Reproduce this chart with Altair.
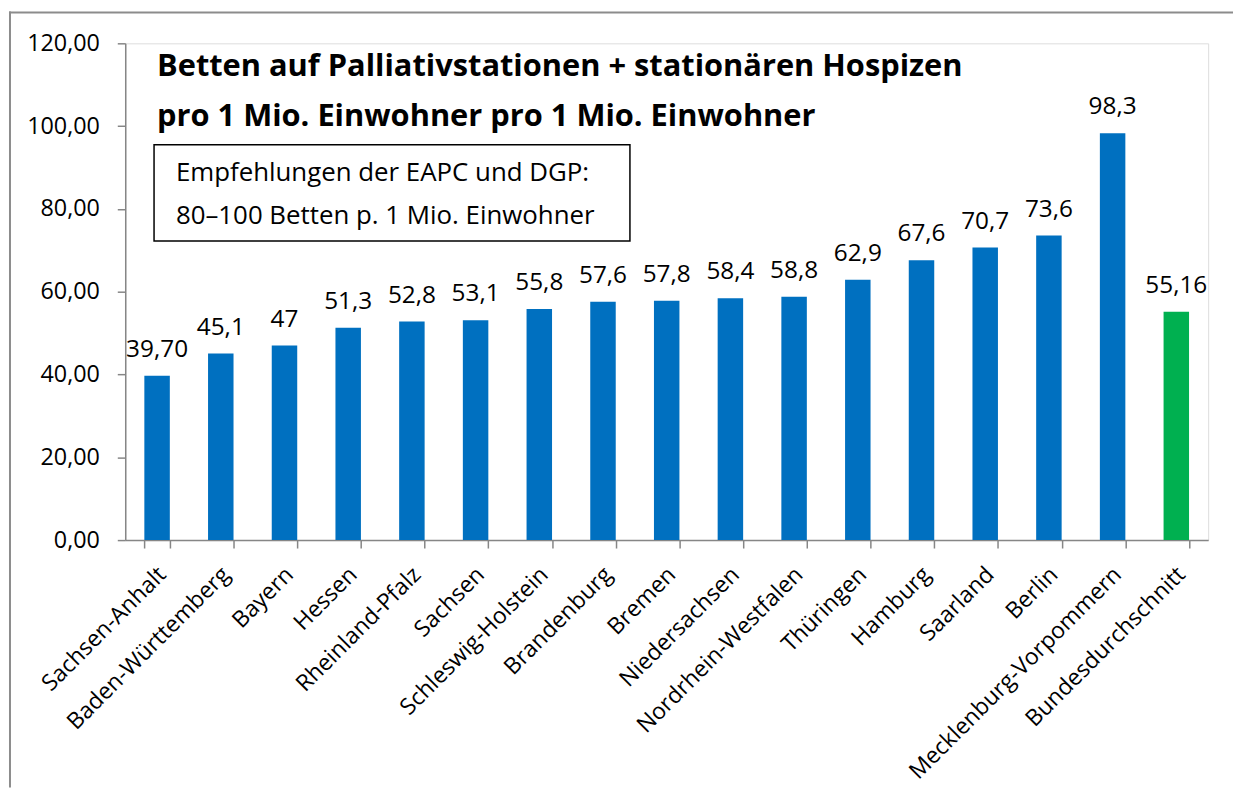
import altair as alt
import pandas as pd

laender = ["Sachsen-Anhalt", "Baden-Württemberg", "Bayern", "Hessen", "Rheinland-Pfalz",
           "Sachsen", "Schleswig-Holstein", "Brandenburg", "Bremen", "Niedersachsen",
           "Nordrhein-Westfalen", "Thüringen", "Hamburg", "Saarland", "Berlin",
           "Mecklenburg-Vorpommern", "Bundesdurchschnitt"]
werte = [39.70, 45.1, 47, 51.3, 52.8, 53.1, 55.8, 57.6, 57.8, 58.4, 58.8, 62.9,
         67.6, 70.7, 73.6, 98.3, 55.16]
beschriftung = ["39,70", "45,1", "47", "51,3", "52,8", "53,1", "55,8", "57,6", "57,8",
                "58,4", "58,8", "62,9", "67,6", "70,7", "73,6", "98,3", "55,16"]
gruppe = ["Land"] * 16 + ["Bund"]
y_ticks = [0, 20, 40, 60, 80, 100, 120]

titel = ["Betten auf Palliativstationen + stationären Hospizen",
         "pro 1 Mio. Einwohner pro 1 Mio. Einwohner"]
hinweis = ["Empfehlungen der EAPC und DGP:", "80–100 Betten p. 1 Mio. Einwohner"]

df = pd.DataFrame({"land": laender, "wert": werte, "label": beschriftung, "gruppe": gruppe})

W, H = 1090, 500
PAD_L, PAD_T, PAD_R, PAD_B = 118, 33, 25, 249
FONT = "Open Sans"
GRAY = "#868686"

x = alt.X("land:N", sort=None,
          scale=alt.Scale(paddingInner=0.6, paddingOuter=0.3),
          axis=alt.Axis(title=None, labelAngle=-45, labelAlign="right", labelBaseline="top",
                        labelPadding=15, labelOffset=-3, tickSize=8, tickBand="extent",
                        labelLimit=0,
                        domainColor=GRAY, tickColor=GRAY, domainWidth=1.5, tickWidth=1.5,
                        labelFontSize=23, labelColor="black", labelFont=FONT))
y = alt.Y("wert:Q",
          scale=alt.Scale(domain=[0, 120], nice=False),
          axis=alt.Axis(title=None, values=y_ticks, grid=False, tickSize=8, labelPadding=18,
                        domainColor=GRAY, tickColor=GRAY, domainWidth=1.5, tickWidth=1.5,
                        labelFontSize=23.5, labelColor="black", labelFont=FONT,
                        labelExpr="replace(format(datum.value, '.2f'), '.', ',')"))

base = alt.Chart(df)
bars = base.mark_bar().encode(
    x=x, y=y,
    color=alt.Color("gruppe:N", scale=alt.Scale(domain=["Land", "Bund"],
                                                range=["#0070C0", "#00B050"]), legend=None))
labels = base.mark_text(baseline="alphabetic", dy=-19, fontSize=24.5, font=FONT,
                        color="black").encode(x=x, y=y, text="label:N")

one = pd.DataFrame({"a": [0]})
border_top = alt.Chart(one).mark_rule(stroke="#8c8c8c", strokeWidth=2).encode(
    x=alt.value(-117), x2=alt.value(W + PAD_R), y=alt.value(-31))
border_left = alt.Chart(one).mark_rule(stroke="#8c8c8c", strokeWidth=2).encode(
    x=alt.value(-116), y=alt.value(-32), y2=alt.value(H + PAD_B))
box = alt.Chart(one).mark_rect(fill=None, stroke="black", strokeWidth=1.5).encode(
    x=alt.value(29), x2=alt.value(508), y=alt.value(102), y2=alt.value(199))

def text_layer(txt, xpos, ypos, size, bold=False):
    return alt.Chart(pd.DataFrame({"t": [txt]})).mark_text(
        align="left", baseline="alphabetic", fontSize=size,
        fontWeight="bold" if bold else "normal", font=FONT, color="black"
    ).encode(x=alt.value(xpos), y=alt.value(ypos), text="t:N")

t1 = text_layer(titel[0], 32, 33, 31, True)
t2 = text_layer(titel[1], 32, 83, 31, True)
h1 = text_layer(hinweis[0], 51, 139, 26)
h2 = text_layer(hinweis[1], 51, 182, 26)

chart = alt.layer(border_top, border_left, bars, labels, box, t1, t2, h1, h2).properties(
    width=W, height=H,
    padding={"left": PAD_L, "top": PAD_T, "right": PAD_R, "bottom": PAD_B},
    autosize=alt.AutoSizeParams(type="none"),
).configure_view(stroke=None).configure(font=FONT)

chart.save("out.html", embed_options={"renderer": "svg", "actions": False})
